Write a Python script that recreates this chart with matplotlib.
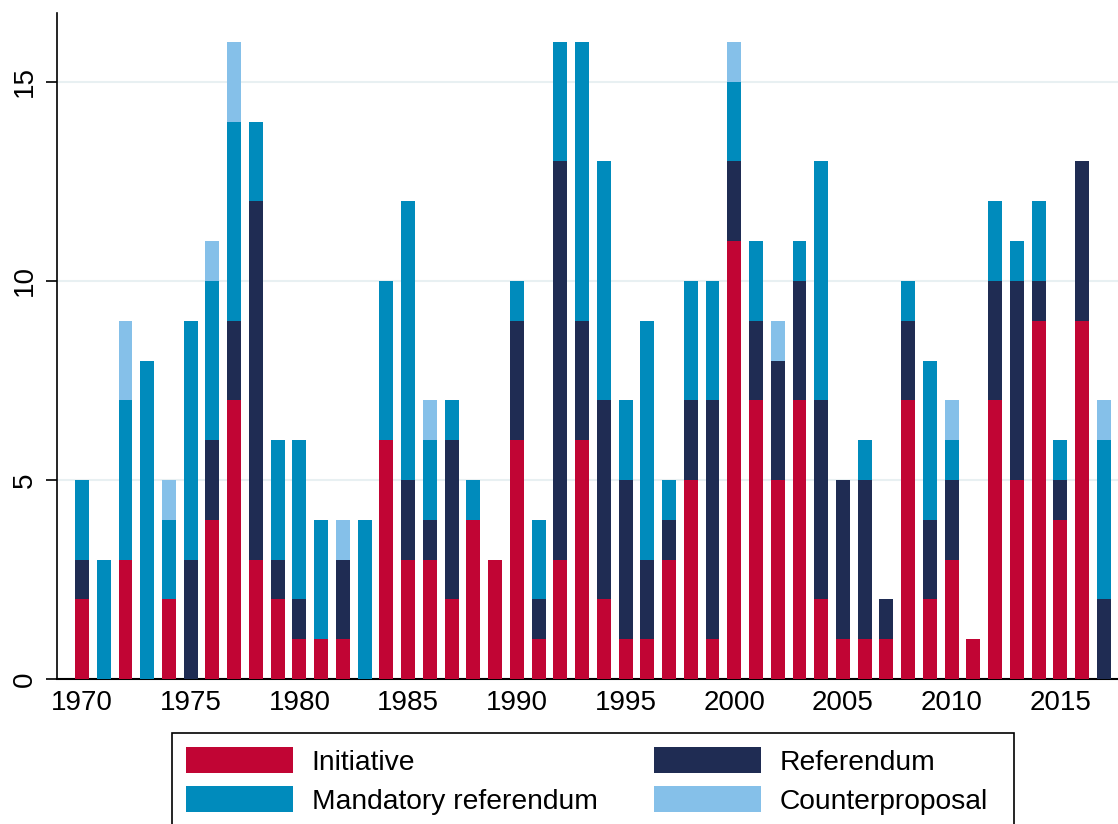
import matplotlib
matplotlib.use("Agg")
import matplotlib.pyplot as plt
from matplotlib.patches import Rectangle
import numpy as np

years = list(range(1970, 2018))
initiative = [2, 0, 3, 0, 2, 0, 4, 7, 3, 2, 1, 1, 1, 0, 6, 3, 3, 2, 4, 3,
              6, 1, 3, 6, 2, 1, 1, 3, 5, 1, 11, 7, 5, 7, 2, 1, 1, 1, 7, 2,
              3, 1, 7, 5, 9, 4, 9, 0]
referendum = [1, 0, 0, 0, 0, 3, 2, 2, 9, 1, 1, 0, 2, 0, 0, 2, 1, 4, 0, 0,
              3, 1, 10, 3, 5, 4, 2, 1, 2, 6, 2, 2, 3, 3, 5, 4, 4, 1, 2, 2,
              2, 0, 3, 5, 1, 1, 4, 2]
mandatory = [2, 3, 4, 8, 2, 6, 4, 5, 2, 3, 4, 3, 0, 4, 4, 7, 2, 1, 1, 0,
             1, 2, 3, 7, 6, 2, 6, 1, 3, 3, 2, 2, 0, 1, 6, 0, 1, 0, 1, 4,
             1, 0, 2, 1, 2, 1, 0, 4]
counterproposal = [0, 0, 2, 0, 1, 0, 1, 2, 0, 0, 0, 0, 1, 0, 0, 0, 1, 0, 0, 0,
                   0, 0, 0, 0, 0, 0, 0, 0, 0, 0, 1, 0, 1, 0, 0, 0, 0, 0, 0, 0,
                   1, 0, 0, 0, 0, 0, 0, 1]
series_names = ["Initiative", "Referendum", "Mandatory referendum", "Counterproposal"]
colors = ["#C10534", "#1F2C53", "#008BBC", "#85C0E9"]
xticks = [1970, 1975, 1980, 1985, 1990, 1995, 2000, 2005, 2010, 2015]
yticks = [0, 5, 10, 15]

plt.rcParams['font.family'] = ['Liberation Sans', 'DejaVu Sans']

W, H = 1118, 824
fig = plt.figure(figsize=(W/100, H/100), dpi=100)
ax = fig.add_axes([57/W, 1-679/H, 1-57/W, (679-13)/H])

data = [initiative, referendum, mandatory, counterproposal]
bottom = np.zeros(len(years))
handles = []
for vals, name, c in zip(data, series_names, colors):
    v = np.array(vals, dtype=float)
    b = ax.bar(years, v, bottom=bottom, width=0.64, color=c, label=name,
               edgecolor='none', zorder=3)
    handles.append(b)
    bottom += v

ax.set_xlim(1968.85, 2017.65)
ax.set_ylim(0, 16.73)
ax.set_xticks(xticks)
ax.set_yticks(yticks)
ax.set_yticklabels([str(t) for t in yticks], rotation=90, va='center')
ax.tick_params(axis='y', labelsize=20, length=8, width=1.2, direction='out', pad=6)
ax.tick_params(axis='x', labelsize=20, length=0, pad=8)
for t in [5, 10, 15]:
    ax.axhline(t, color='#E8F0F2', lw=1.5, zorder=1)
for s in ['top', 'right']:
    ax.spines[s].set_visible(False)
ax.spines['left'].set_linewidth(1.2)
ax.spines['bottom'].set_linewidth(1.5)

# legend frame drawn separately (extends past the bottom edge as in the reference)
fig.patches.append(Rectangle((172/W, -8/H), (1014-172)/W, (824-733+8)/H,
                             transform=fig.transFigure, fill=False,
                             edgecolor='black', linewidth=1.2))

# column-major fill: rows read Initiative|Referendum, Mandatory|Counterproposal
order = [0, 2, 1, 3]
leg = fig.legend(handles=[handles[i] for i in order],
                 labels=[series_names[i] for i in order], ncol=2,
                 loc='upper left', bbox_to_anchor=(172/W, 1-733/H),
                 fontsize=20.3, frameon=False,
                 handlelength=3.8, handleheight=1.06,
                 labelspacing=0.35, borderpad=0.5, handletextpad=0.65,
                 columnspacing=2.0, borderaxespad=0)

fig.savefig("out.png", dpi=100)
